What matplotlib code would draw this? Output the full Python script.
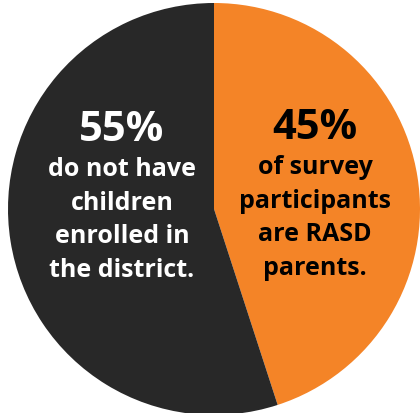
import matplotlib
matplotlib.use("Agg")
import matplotlib.pyplot as plt

labels = ["RASD parents", "No children enrolled"]
shares = [45, 55]
colors = ["#F48427", "#282828"]

big_left = "55%"
text_left = ["do not have", "children", "enrolled in", "the district."]
big_right = "45%"
text_right = ["of survey", "participants", "are RASD", "parents."]

W, H = 420, 414
fig = plt.figure(figsize=(W / 100, H / 100), dpi=100)
ax = fig.add_axes([0, 0, 1, 1])

# pie drawn in pixel coords (y axis flipped, so counterclock=True runs clockwise on screen)
ax.pie(shares, colors=colors, startangle=-90, counterclock=True,
       center=(214, 210), radius=206, frame=True,
       wedgeprops=dict(linewidth=0))
ax.set_xlim(0, W)
ax.set_ylim(H, 0)
ax.axis("off")

font = "Open Sans"
ax.text(122, 131, big_left, color="white", fontsize=30, fontweight="bold",
        family=font, ha="center", va="center")
for i, t in enumerate(text_left):
    ax.text(122, 170 + i * 33.5, t, color="white", fontsize=18,
            fontweight="bold", family=font, ha="center", va="center")

ax.text(315, 129, big_right, color="black", fontsize=30, fontweight="bold",
        family=font, ha="center", va="center")
for i, t in enumerate(text_right):
    ax.text(315, 168 + i * 33.5, t, color="black", fontsize=18,
            fontweight="bold", family=font, ha="center", va="center")

fig.savefig("out.png", dpi=100, facecolor="white")
